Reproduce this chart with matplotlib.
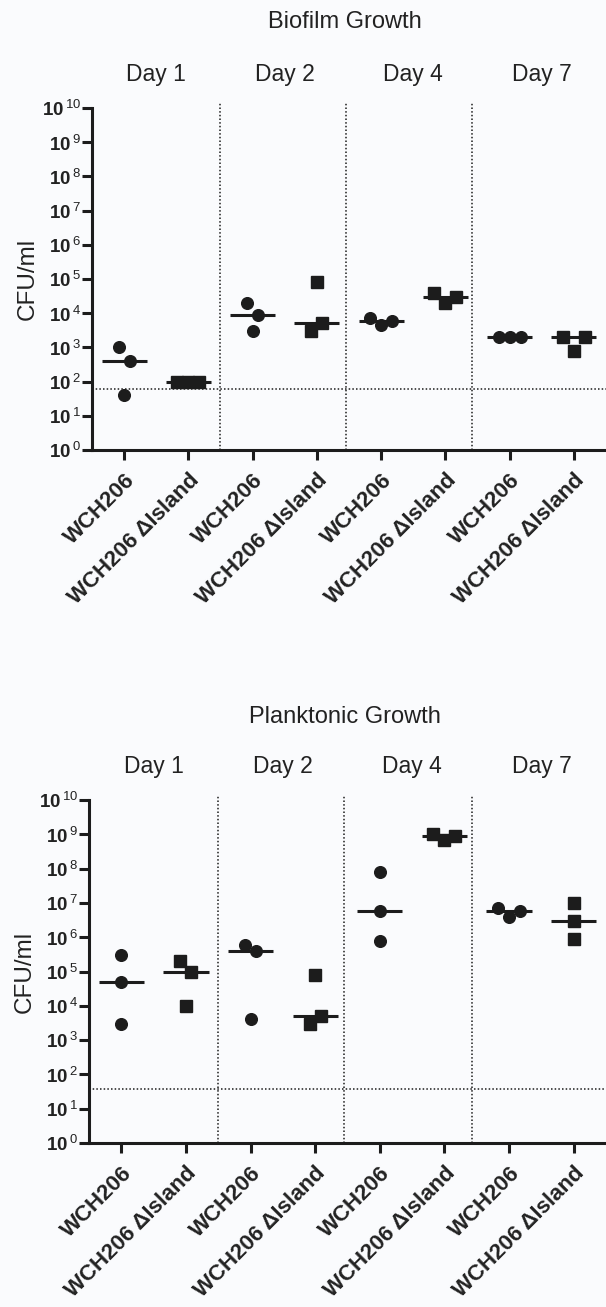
import numpy as np
import matplotlib.pyplot as plt
from matplotlib.transforms import blended_transform_factory

plt.rcParams['font.family'] = ['Liberation Sans', 'DejaVu Sans']
plt.rcParams['mathtext.fontset'] = 'custom'
plt.rcParams['mathtext.rm'] = 'Liberation Sans'
plt.rcParams['mathtext.bf'] = 'Liberation Sans:bold'

# Data (CFU/ml, three replicates per group)
days = ['Day 1', 'Day 2', 'Day 4', 'Day 7']
strains = ['WCH206', 'WCH206 \u0394Island']

biofilm_wt = [[1000, 400, 40], [20000, 9000, 3000], [7000, 4500, 6000], [2000, 2000, 2000]]
biofilm_del = [[100, 100, 100], [80000, 3000, 5000], [40000, 20000, 30000], [2000, 800, 2000]]
plank_wt = [[3e5, 5e4, 3e3], [6e5, 4e5, 4e3], [8e7, 6e6, 8e5], [7e6, 4e6, 6e6]]
plank_del = [[2e5, 1e5, 1e4], [8e4, 3e3, 5e3], [1e9, 7e8, 9e8], [1e7, 3e6, 9e5]]

biofilm_limit = 60
plank_limit = 37

titles = ['Biofilm Growth', 'Planktonic Growth']
dividers = [1.49, 3.45, 5.42]

ink = '#1c1c1c'
text_col = '#222222'
bg = '#fafbfd'

W, H = 606, 1307
fig = plt.figure(figsize=(W / 100, H / 100), dpi=100, facecolor=bg)

# axes boxes in pixels: left, top, right, bottom
boxes = [(92, 108, 606, 450), (89, 800, 606, 1143)]
title_y = [22, 717]

px_per_unit = 64.3
px_per_decade = 34.3


def spread(values, row_px=14.0, step_px=11.0):
    # Prism-like column scatter: points close in value share a row and get spread sideways
    logs = np.log10(values)
    order = np.argsort(logs, kind='stable')
    offs = np.zeros(len(values))
    rows = []
    for i in order:
        if rows and (logs[i] - logs[rows[-1][0]]) * px_per_decade < row_px:
            rows[-1].append(i)
        else:
            rows.append([i])
    for row in rows:
        row = sorted(row)
        n = len(row)
        for k, i in enumerate(row):
            offs[i] = (k - (n - 1) / 2) * step_px / px_per_unit
    return offs


panels = [(biofilm_wt, biofilm_del, biofilm_limit), (plank_wt, plank_del, plank_limit)]

for p, (wt, dl, limit) in enumerate(panels):
    l, t, r, b = boxes[p]
    ax = fig.add_axes([l / W, 1 - b / H, (r - l) / W, (b - t) / H])
    ax.set_facecolor(bg)
    ax.set_yscale('log')
    ax.set_ylim(1, 1e10)
    ax.set_xlim(-0.5, 7.5)

    for d in range(len(days)):
        for s, (grp, mk, ms) in enumerate([(wt, 'o', 8.4), (dl, 's', 8.0)]):
            x = 2 * d + s
            vals = np.array(grp[d], dtype=float)
            offs = spread(vals)
            ax.plot(x + offs, vals, linestyle='none', marker=mk, ms=ms,
                    color=ink, mec=ink, zorder=3)
            ax.hlines(np.median(vals), x - 0.35, x + 0.35, color=ink, lw=2.2, zorder=4)

    for xd in dividers:
        ax.plot([xd, xd], [1, 10 ** 10.15], color=ink, lw=1.1,
                linestyle=(0, (1, 1.4)), clip_on=False, zorder=1)
    ax.axhline(limit, color=ink, lw=1.1, linestyle=(0, (1, 1.4)), zorder=1)

    trans = blended_transform_factory(ax.transData, ax.transAxes)
    for d, day in enumerate(days):
        ax.text(2 * d + 0.5, 1.097, day, transform=trans, ha='center', va='center',
                fontsize=16.5, color=text_col)

    ax.spines['top'].set_visible(False)
    ax.spines['right'].set_visible(False)
    for sp in ['left', 'bottom']:
        ax.spines[sp].set_linewidth(2.2)
        ax.spines[sp].set_color(ink)

    ax.set_yticks([10 ** k for k in range(11)])
    ax.set_yticklabels([r'$\mathbf{10}^{\,\mathrm{%d}}$' % k for k in range(11)])
    ax.minorticks_off()
    ax.tick_params(axis='y', length=7, width=2.2, color=ink, labelsize=13.5,
                   labelcolor=text_col, pad=1)

    ax.set_xticks(range(8))
    ax.set_xticklabels(strains * 4, rotation=45, ha='right', va='top',
                       rotation_mode='anchor', fontweight='bold')
    ax.tick_params(axis='x', length=7, width=2.2, color=ink, labelsize=16,
                   labelcolor=text_col, pad=7)

    ax.set_ylabel('CFU/ml', fontsize=17.5, color=text_col, labelpad=2)

    fig.text(345 / W, 1 - title_y[p] / H, titles[p], ha='center', va='center',
             fontsize=17, color=text_col)

fig.savefig('out.png', dpi=100, facecolor=bg)
